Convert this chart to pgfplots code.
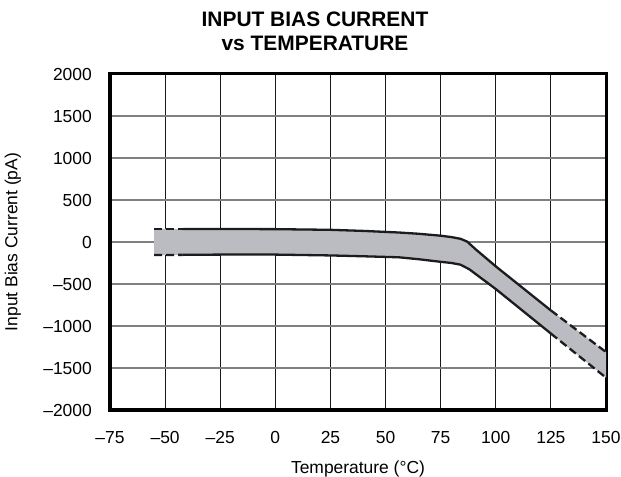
\documentclass[border=0pt]{standalone}
\usepackage{fontspec}
\setmainfont{Liberation Sans}
\usepackage{pgfplots}
\usepackage{pgfplotstable}
\pgfplotsset{compat=1.18}
\usepgfplotslibrary{fillbetween}
\definecolor{band}{RGB}{187,188,193}
\definecolor{curve}{RGB}{28,28,30}

\pgfplotstableread{
T I
-55 155
-42 155
-25 155
0 153
25 145
40 132
56 113
65 98
75 75
80 58
84 38
87 5
91 -90
100 -290
125 -815
150 -1310
}\upperdata

\pgfplotstableread{
T I
-55 -155
-42 -153
-25 -150
0 -150
25 -160
40 -170
56 -182
65 -205
75 -236
80 -250
84 -270
88 -325
100 -560
125 -1090
150 -1615
}\lowerdata

\begin{document}
\begin{tikzpicture}
\begin{axis}[
  set layers,
  scale only axis, width=496bp, height=336bp,
  xmin=-75, xmax=150, ymin=-2000, ymax=2000,
  xtick={-75,-50,...,150},
  xticklabels={–75,–50,–25,0,25,50,75,100,125,150},
  ytick={-2000,-1500,...,2000},
  yticklabels={–2000,–1500,–1000,–500,0,500,1000,1500,2000},
  major tick length=0pt,
  tick style={draw=none},
  grid=major,
  x grid style={black!90, line width=1bp},
  y grid style={black!50, line width=1.3bp},
  axis line style={black, line width=3bp},
  tick label style={font=\fontsize{17.5}{20}\selectfont},
  yticklabel style={anchor=east, inner sep=0pt, xshift=-18bp},
  xticklabel style={anchor=north, inner sep=0pt, yshift=-21bp},
  xlabel={Temperature (°C)},
  ylabel={Input Bias Current (pA)},
  label style={font=\fontsize{17.5}{20}\selectfont},
  xlabel style={at={(axis description cs:0.5,-0.1875)}, anchor=base, inner sep=0pt},
  ylabel style={at={(axis description cs:-0.1865,0.5)}, anchor=base, inner sep=0pt},
]
\addplot[name path=U, draw=none] table[x=T,y=I] {\upperdata};
\addplot[name path=L, draw=none] table[x=T,y=I] {\lowerdata};
\addplot[fill=band, draw=none, on layer=axis background] fill between[of=U and L];

\addplot[curve, line width=2.3bp, dash pattern=on 8bp off 4bp, restrict x to domain=-55:-42] table[x=T,y=I] {\upperdata};
\addplot[curve, line width=2.3bp, line join=round, restrict x to domain=-42:125] table[x=T,y=I] {\upperdata};
\addplot[curve, line width=2.3bp, dash pattern=on 8bp off 4bp, restrict x to domain=125:150] table[x=T,y=I] {\upperdata};
\addplot[curve, line width=2.3bp, dash pattern=on 8bp off 4bp, restrict x to domain=-55:-42] table[x=T,y=I] {\lowerdata};
\addplot[curve, line width=2.3bp, line join=round, restrict x to domain=-42:125] table[x=T,y=I] {\lowerdata};
\addplot[curve, line width=2.3bp, dash pattern=on 8bp off 4bp, restrict x to domain=125:150] table[x=T,y=I] {\lowerdata};

\coordinate (SW) at (rel axis cs:0,0);
\coordinate (NE) at (rel axis cs:1,1);
\end{axis}
\node[anchor=base, inner sep=0pt, font=\fontsize{21}{24}\selectfont\bfseries] at ([shift={(205bp,383bp)}]SW) {INPUT BIAS CURRENT};
\node[anchor=base, inner sep=0pt, font=\fontsize{21}{24}\selectfont\bfseries] at ([shift={(205bp,359bp)}]SW) {vs TEMPERATURE};
\pgfresetboundingbox
\path[use as bounding box] ([shift={(-110bp,-67bp)}]SW) rectangle ([shift={(15bp,74bp)}]NE);
\end{tikzpicture}
\end{document}
